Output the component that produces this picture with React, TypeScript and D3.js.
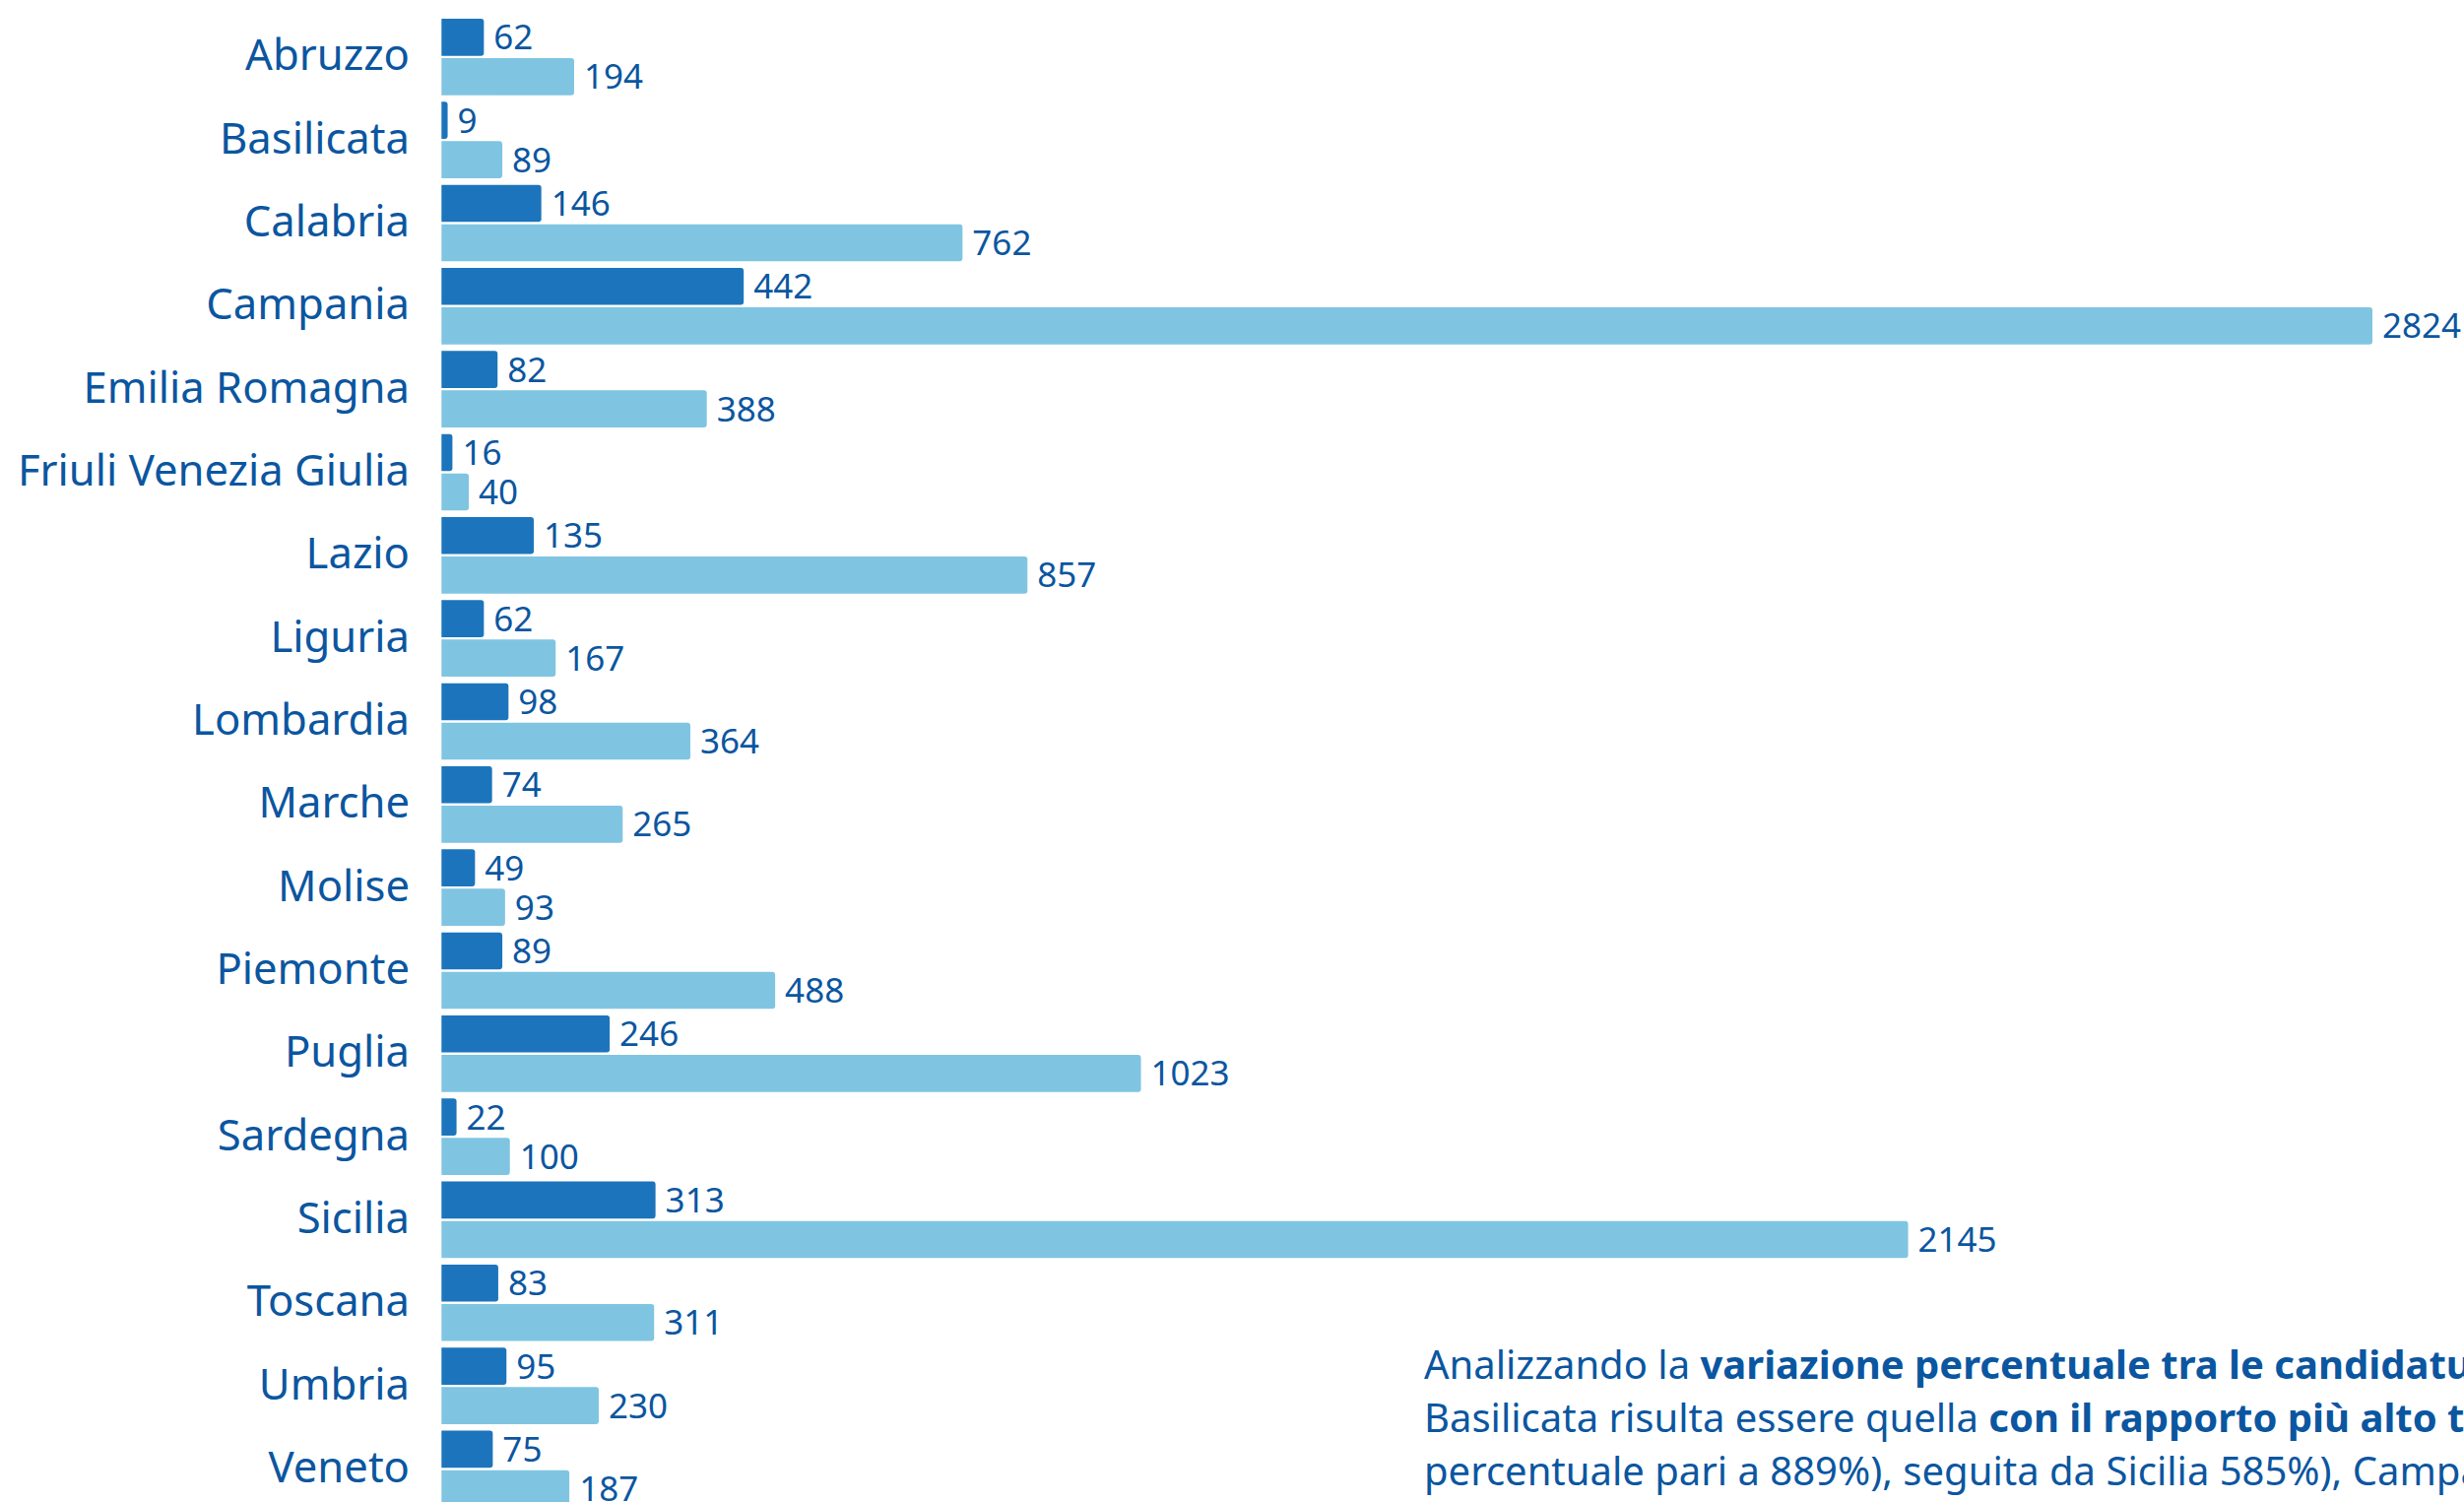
import React from "react";
import * as d3 from "d3";

const regions = [
  "Abruzzo", "Basilicata", "Calabria", "Campania", "Emilia Romagna",
  "Friuli Venezia Giulia", "Lazio", "Liguria", "Lombardia", "Marche",
  "Molise", "Piemonte", "Puglia", "Sardegna", "Sicilia", "Toscana",
  "Umbria", "Veneto",
];
const seriesNames = ["2022", "2023"];
const values2022 = [62, 9, 146, 442, 82, 16, 135, 62, 98, 74, 49, 89, 246, 22, 313, 83, 95, 75];
const values2023 = [194, 89, 762, 2824, 388, 40, 857, 167, 364, 265, 93, 488, 1023, 100, 2145, 311, 230, 187];
const seriesColors = ["#1c75bc", "#7fc5e2"];

const noteLines: { text: string; bold: boolean }[][] = [
  [
    { text: "Analizzando la ", bold: false },
    { text: "variazione percentuale tra le candidature", bold: true },
    { text: " ricevute nei due anni, la", bold: false },
  ],
  [
    { text: "Basilicata risulta essere quella ", bold: false },
    { text: "con il rapporto più alto tra le due edizioni", bold: true },
    { text: " (variazione", bold: false },
  ],
  [
    { text: "percentuale pari a 889%), seguita da Sicilia 585%), Campania (539%) e Lazio (535%).", bold: false },
  ],
];

const W = 2502;
const H = 1525;
const TEXT = "#0b56a0";
const FONT = "'Noto Sans', 'Open Sans', sans-serif";

export default function App() {
  const step = 84.33;
  const p = 0.079;
  const y0 = 19 - step * p / 2;
  const y = d3.scaleBand<string>().domain(regions).range([y0, y0 + regions.length * step]).paddingInner(p).paddingOuter(p / 2);
  const ySub = d3.scaleBand<string>().domain(seriesNames).range([0, y.bandwidth()]).paddingInner(0.06);
  const x = d3.scaleLinear().domain([0, d3.max(values2023)!]).range([448.3, 2409]);
  const series = [values2022, values2023];

  return (
    <svg width={W} height={H} style={{ position: "absolute", left: 0, top: 0, background: "#fff" }} fontFamily={FONT}>
      {regions.map((r, i) => {
        const gy = y(r)!;
        return (
          <g key={r}>
            <text x={416} y={gy + y.bandwidth() / 2 + 13.5} textAnchor="end" fontSize={43.6} fill={TEXT}>{r}</text>
            {series.map((vals, s) => {
              const by = gy + ySub(seriesNames[s])!;
              const bh = ySub.bandwidth();
              const x0 = x(0);
              const x1 = x(vals[i]);
              return (
                <g key={s}>
                  <path
                    d={`M${x0},${by} H${x1 - 3} Q${x1},${by} ${x1},${by + 3} V${by + bh - 3} Q${x1},${by + bh} ${x1 - 3},${by + bh} H${x0} Z`}
                    fill={seriesColors[s]}
                  />
                  <text x={x1 + 10} y={by + bh / 2 + 12.5} fontSize={35} fill={TEXT}>{vals[i]}</text>
                </g>
              );
            })}
          </g>
        );
      })}
      {noteLines.map((line, li) => (
        <text key={li} x={1446} y={1400 + li * 54} fontSize={40} fill={TEXT}>
          {line.map((seg, k) => (
            <tspan key={k} fontWeight={seg.bold ? 700 : 400}>{seg.text}</tspan>
          ))}
        </text>
      ))}
    </svg>
  );
}
